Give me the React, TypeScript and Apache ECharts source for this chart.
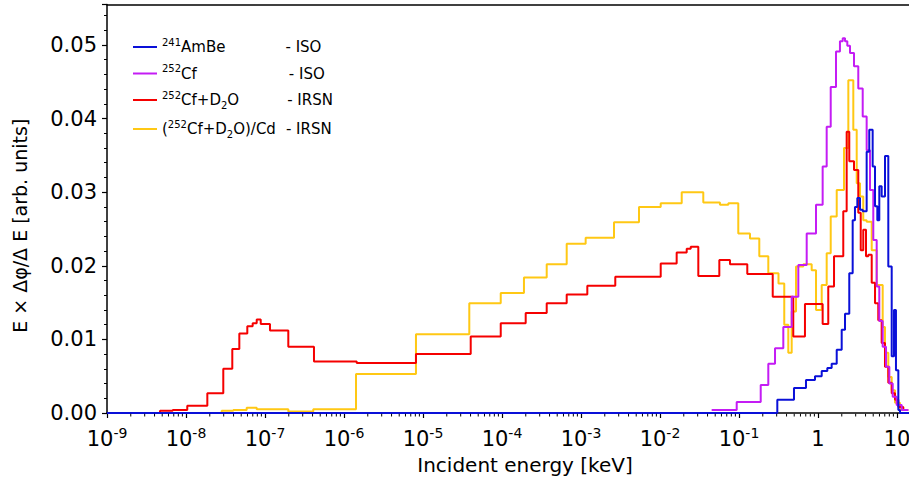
import { useEffect, useRef } from "react";
import * as echarts from "echarts";

const FONT = "'DejaVu Sans', 'Liberation Sans', sans-serif";

// x axis is log10(E / keV)
const X_MIN = -9;
const X_MAX = 1.152;
const Y_MAX = 0.0555;

const xTickExponents = [-9, -8, -7, -6, -5, -4, -3, -2, -1, 0, 1];
const yTickLabels = ["0.00", "0.01", "0.02", "0.03", "0.04", "0.05"];

// 241AmBe - ISO  (bin left edges in log10 keV, last entry is the final right edge)
const amBeEdges = [-9, -0.515, -0.304, -0.152, -0.038, 0.047, 0.118, 0.173, 0.237, 0.3, 0.342, 0.396, 0.439, 0.468, 0.498, 0.532, 0.566, 0.616, 0.649, 0.692, 0.722, 0.751, 0.776, 0.806, 0.848, 0.89, 0.933, 0.962, 0.987, 1.017, 1.038, 1.152];
const amBeValues = [0, 0.0018, 0.0034, 0.0045, 0.005, 0.0057, 0.0061, 0.0067, 0.0086, 0.0113, 0.0135, 0.019, 0.0262, 0.028, 0.0292, 0.0276, 0.0274, 0.0355, 0.0385, 0.0335, 0.0281, 0.0262, 0.0308, 0.0294, 0.0349, 0.0199, 0.0077, 0.014, 0.0058, 0.0004, 0];

// 252Cf - ISO
const cfEdges = [-1.346, -1.029, -0.725, -0.629, -0.544, -0.439, -0.333, -0.249, -0.143, -0.025, 0.059, 0.11, 0.161, 0.228, 0.278, 0.313, 0.342, 0.371, 0.405, 0.456, 0.51, 0.566, 0.616, 0.658, 0.7, 0.743, 0.776, 0.819, 0.861, 0.903, 0.946, 0.996, 1.06, 1.143];
const cfValues = [0.0004, 0.0015, 0.0038, 0.0067, 0.0088, 0.0117, 0.0158, 0.0201, 0.0244, 0.0283, 0.0335, 0.0389, 0.0443, 0.0491, 0.0505, 0.0509, 0.0505, 0.0499, 0.0489, 0.0471, 0.0441, 0.0403, 0.0357, 0.0303, 0.0235, 0.0172, 0.0125, 0.009, 0.0063, 0.004, 0.0022, 0.0011, 0.0004];

// 252Cf+D2O - IRSN
const cfD2OEdges = [-9, -8.329, -8.168, -7.984, -7.73, -7.528, -7.414, -7.325, -7.224, -7.156, -7.105, -7.054, -6.937, -6.705, -6.38, -5.839, -5.089, -4.396, -4.016, -3.7, -3.434, -3.181, -2.92, -2.566, -1.991, -1.789, -1.662, -1.611, -1.515, -1.249, -1.114, -0.895, -0.573, -0.313, -0.165, 0.059, 0.13, 0.203, 0.32, 0.363, 0.396, 0.456, 0.51, 0.541, 0.573, 0.608, 0.637, 0.68, 0.722, 0.763, 0.806, 0.848, 0.89, 0.933, 0.975, 1.017, 1.08, 1.143];
const cfD2OValues = [0, 0.0003, 0.0004, 0.001, 0.0027, 0.006, 0.0087, 0.0108, 0.0118, 0.0122, 0.0127, 0.0121, 0.0112, 0.009, 0.007, 0.0068, 0.008, 0.0104, 0.0122, 0.0136, 0.0149, 0.0161, 0.0173, 0.0185, 0.0203, 0.0218, 0.0223, 0.0226, 0.0186, 0.0208, 0.0202, 0.0189, 0.0158, 0.0104, 0.0148, 0.0121, 0.0172, 0.0213, 0.0274, 0.0382, 0.0342, 0.033, 0.0272, 0.0221, 0.0249, 0.0213, 0.0215, 0.0177, 0.0149, 0.0126, 0.0095, 0.0063, 0.0041, 0.0027, 0.0018, 0.0008, 0.0004];

// (252Cf+D2O)/Cd - IRSN
const cfD2OCdEdges = [-9, -7.548, -7.401, -7.232, -7.105, -6.705, -6.389, -5.848, -5.089, -4.414, -4.016, -3.722, -3.434, -3.181, -2.941, -2.582, -2.266, -1.991, -1.725, -1.452, -1.241, -1.135, -1.009, -0.861, -0.743, -0.629, -0.5, -0.427, -0.376, -0.333, -0.278, -0.186, -0.08, -0.025, 0.047, 0.11, 0.161, 0.237, 0.329, 0.384, 0.447, 0.49, 0.532, 0.573, 0.616, 0.68, 0.743, 0.819, 0.848, 0.89, 0.933, 0.975, 1.038, 1.123];
const cfD2OCdValues = [0, 0.0003, 0.0004, 0.0007, 0.0005, 0.0002, 0.0005, 0.0053, 0.0107, 0.0149, 0.0163, 0.0184, 0.0202, 0.023, 0.0238, 0.0259, 0.028, 0.0285, 0.03, 0.0286, 0.0283, 0.0285, 0.0244, 0.0237, 0.0213, 0.019, 0.0176, 0.012, 0.0082, 0.0138, 0.0199, 0.0202, 0.0194, 0.014, 0.0174, 0.0217, 0.0267, 0.0303, 0.036, 0.0452, 0.0385, 0.0312, 0.0294, 0.0262, 0.026, 0.0221, 0.0174, 0.0117, 0.0082, 0.0049, 0.0031, 0.0014, 0.0004];

const COLORS = {
  amBe: "#0a10d8",
  cf: "#c41cf4",
  cfD2O: "#f50000",
  cfD2OCd: "#ffc814",
};

function stepData(edges: number[], values: number[]) {
  const d: number[][] = values.map((v, i) => [edges[i], v]);
  d.push([edges[edges.length - 1], values[values.length - 1]]);
  return d;
}

function minorTickPositions() {
  const out: number[][] = [];
  for (let d = X_MIN; d <= 1; d++) {
    for (let k = 2; k <= 9; k++) {
      const v = d + Math.log10(k);
      if (v < X_MAX) out.push([v, 0]);
    }
  }
  return out;
}

export default function App() {
  const ref = useRef<HTMLDivElement>(null);
  useEffect(() => {
    document.body.style.margin = "0";
    if (!ref.current) return;
    const chart = echarts.init(ref.current, null, { renderer: "svg" });
    const legendText: Record<string, string> = {
      AmBe: "{sup|241}{t|AmBe}{g1|}{t|- ISO}",
      Cf: "{sup|252}{t|Cf}{g2|}{t|- ISO}",
      CfD2O: "{sup|252}{t|Cf+D}{sub|2}{t|O}{g3|}{t|- IRSN}",
      CfD2OCd: "{t|(}{sup|252}{t|Cf+D}{sub|2}{t|O)/Cd}{g4|}{t|- IRSN}",
    };
    const option: any = {
      animation: false,
      backgroundColor: "#ffffff",
      textStyle: { fontFamily: FONT },
      grid: { left: 107, right: 0, top: 4.5, bottom: 76, containLabel: false, outerBoundsMode: "none" },
      legend: {
        orient: "vertical",
        left: 128,
        top: 32,
        icon: "rect",
        itemWidth: 24,
        itemHeight: 2,
        itemGap: 9,
        selectedMode: false,
        data: ["AmBe", "Cf", "CfD2O", "CfD2OCd"],
        formatter: (name: string) => legendText[name],
        textStyle: {
          fontFamily: FONT,
          color: "#000",
          rich: {
            t: { fontSize: 15, fontFamily: FONT, color: "#000", lineHeight: 20 },
            sup: { fontSize: 10, fontFamily: FONT, color: "#000", lineHeight: 10, verticalAlign: "top" },
            sub: { fontSize: 10, fontFamily: FONT, color: "#000", lineHeight: 5, verticalAlign: "bottom" },
            g1: { width: 60 },
            g2: { width: 92 },
            g3: { width: 48 },
            g4: { width: 10 },
          },
        },
      },
      xAxis: [
        {
          type: "value",
          min: X_MIN,
          max: X_MAX,
          interval: 1,
          name: "Incident energy [keV]",
          nameLocation: "middle",
          nameGap: 42,
          nameTextStyle: { fontFamily: FONT, fontSize: 20, color: "#000", padding: [0, 0, 0, 34] },
          axisLine: { show: true, onZero: false, lineStyle: { color: "#000", width: 1.5 } },
          axisTick: { show: true, inside: false, length: 5, lineStyle: { color: "#000", width: 1.2 } },
          splitLine: { show: false },
          axisLabel: {
            margin: 13,
            showMaxLabel: false,
            color: "#000",
            formatter: (v: number) => {
              const e = Math.round(v);
              if (Math.abs(v - e) > 1e-6 || !xTickExponents.includes(e)) return "";
              if (e === 0) return "{b|1}";
              if (e === 1) return "{b|10}";
              return `{b|10}{s|${e}}`;
            },
            rich: {
              b: { fontSize: 21, fontFamily: FONT, color: "#000", lineHeight: 26 },
              s: { fontSize: 14, fontFamily: FONT, color: "#000", lineHeight: 14, verticalAlign: "top" },
            },
          },
        },
        {
          type: "value",
          min: X_MIN,
          max: X_MAX,
          position: "top",
          axisLine: { show: true, onZero: false, lineStyle: { color: "#000", width: 1.5 } },
          axisTick: { show: false },
          axisLabel: { show: false },
          splitLine: { show: false },
        },
      ],
      yAxis: {
        type: "value",
        min: 0,
        max: Y_MAX,
        interval: 0.01,
        name: "E × Δφ/Δ E [arb. units]",
        nameLocation: "middle",
        nameGap: 78,
        nameRotate: 90,
        nameTextStyle: { fontFamily: FONT, fontSize: 19, color: "#000", padding: [0, 34, 0, 0] },
        axisLine: { show: true, onZero: false, lineStyle: { color: "#000", width: 1.5 } },
        axisTick: { show: true, inside: false, length: 5, lineStyle: { color: "#000", width: 1.2 } },
        minorTick: { show: true, splitNumber: 5, length: 3, lineStyle: { color: "#000", width: 1 } },
        splitLine: { show: false },
        axisLabel: {
          margin: 10,
          showMaxLabel: false,
          fontFamily: FONT,
          fontSize: 21,
          color: "#000",
          formatter: (v: number) => {
            const i = Math.round(v / 0.01);
            if (Math.abs(v - i * 0.01) > 1e-9) return "";
            return yTickLabels[i] ?? "";
          },
        },
      },
      series: [
        {
          name: "CfD2OCd",
          type: "line",
          step: "end",
          symbol: "none",
          color: COLORS.cfD2OCd,
          lineStyle: { width: 2, color: COLORS.cfD2OCd },
          data: stepData(cfD2OCdEdges, cfD2OCdValues),
        },
        {
          name: "CfD2O",
          type: "line",
          step: "end",
          symbol: "none",
          color: COLORS.cfD2O,
          lineStyle: { width: 2, color: COLORS.cfD2O },
          data: stepData(cfD2OEdges, cfD2OValues),
        },
        {
          name: "Cf",
          type: "line",
          step: "end",
          symbol: "none",
          color: COLORS.cf,
          lineStyle: { width: 2, color: COLORS.cf },
          data: stepData(cfEdges, cfValues),
        },
        {
          name: "AmBe",
          type: "line",
          step: "end",
          symbol: "none",
          color: COLORS.amBe,
          lineStyle: { width: 2, color: COLORS.amBe },
          data: stepData(amBeEdges, amBeValues),
        },
        {
          name: "minorTicks",
          type: "custom",
          silent: true,
          clip: false,
          z: 5,
          data: minorTickPositions(),
          renderItem: (_p: any, api: any) => {
            const pt = api.coord([api.value(0), 0]);
            return {
              type: "line",
              shape: { x1: pt[0], y1: pt[1] + 0.75, x2: pt[0], y2: pt[1] + 3.5 },
              style: { stroke: "#000", lineWidth: 1 },
            };
          },
        },
      ],
    };
    chart.setOption(option);
    return () => chart.dispose();
  }, []);
  return <div ref={ref} style={{ width: 909, height: 489 }} />;
}
